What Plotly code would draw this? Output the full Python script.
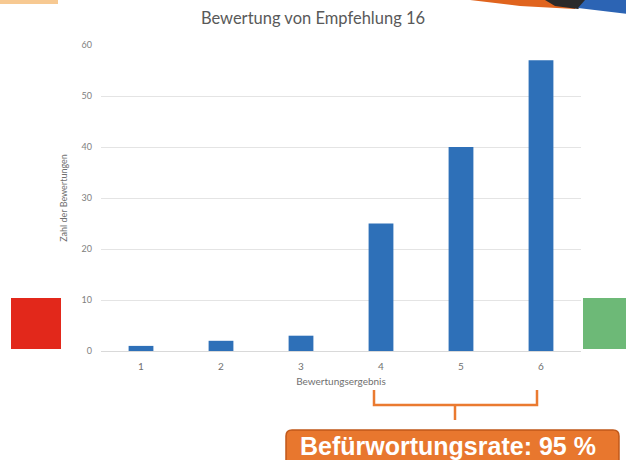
import plotly.graph_objects as go

categories = ["1", "2", "3", "4", "5", "6"]
counts = [1, 2, 3, 25, 40, 57]
y_ticks = [0, 10, 20, 30, 40, 50, 60]

title_text = "Bewertung von Empfehlung 16"
x_title = "Bewertungsergebnis"
y_title = "Zahl der Bewertungen"
badge_text = "Befürwortungsrate: 95 %"

W, H = 626, 460
L, R, T, B = 101, 581, 45, 351


def px(x):
    return (x - L) / (R - L)


def py(y):
    return (B - y) / (B - T)


fig = go.Figure(
    go.Bar(
        x=categories,
        y=counts,
        marker=dict(color="#2E70B8", line=dict(width=0)),
        hoverinfo="x+y",
    )
)

shapes = []
# side squares
shapes.append(dict(type="rect", xref="paper", yref="paper",
                   x0=px(11), x1=px(61), y0=py(349), y1=py(298),
                   fillcolor="#E2281B", line=dict(width=0), layer="above"))
shapes.append(dict(type="rect", xref="paper", yref="paper",
                   x0=px(583), x1=px(628), y0=py(349), y1=py(298),
                   fillcolor="#6DB977", line=dict(width=0), layer="above"))
# bracket
bc = "#EA7A30"
shapes.append(dict(type="path", xref="paper", yref="paper",
                   path=f"M {px(374)},{py(390)} L {px(374)},{py(405)} L {px(537)},{py(405)} L {px(537)},{py(390)}",
                   line=dict(color=bc, width=2.5), layer="above"))
shapes.append(dict(type="line", xref="paper", yref="paper",
                   x0=px(455), x1=px(455), y0=py(405), y1=py(420),
                   line=dict(color=bc, width=2.5), layer="above"))
# badge (rounded rect)
bx0, bx1, by0, by1, r = 286, 619, 430, 462, 6
path = (f"M {px(bx0 + r)},{py(by0)} L {px(bx1 - r)},{py(by0)} "
        f"Q {px(bx1)},{py(by0)} {px(bx1)},{py(by0 + r)} "
        f"L {px(bx1)},{py(by1)} L {px(bx0)},{py(by1)} "
        f"L {px(bx0)},{py(by0 + r)} Q {px(bx0)},{py(by0)} {px(bx0 + r)},{py(by0)} Z")
shapes.append(dict(type="path", xref="paper", yref="paper", path=path,
                   fillcolor="#E8772E", line=dict(color="#C0581A", width=1.5), layer="above"))
# top-right swoosh
shapes.append(dict(type="path", xref="paper", yref="paper",
                   path=f"M {px(470)},{py(0)} L {px(580)},{py(0)} L {px(575)},{py(9)} L {px(520)},{py(6)} Z",
                   fillcolor="#E0641E", line=dict(width=0), layer="above"))
shapes.append(dict(type="path", xref="paper", yref="paper",
                   path=f"M {px(545)},{py(0)} L {px(590)},{py(0)} L {px(578)},{py(9)} L {px(555)},{py(6)} Z",
                   fillcolor="#2A2A2A", line=dict(width=0), layer="above"))
shapes.append(dict(type="path", xref="paper", yref="paper",
                   path=f"M {px(585)},{py(0)} L {px(628)},{py(0)} L {px(628)},{py(14)} L {px(578)},{py(8)} Z",
                   fillcolor="#2C64B4", line=dict(width=0), layer="above"))
# top-left cut-off orange heading fragment
shapes.append(dict(type="rect", xref="paper", yref="paper",
                   x0=px(0), x1=px(58), y0=py(4), y1=py(0),
                   fillcolor="#F2A54A", opacity=0.6, line=dict(width=0), layer="above"))

annotations = [
    dict(text=badge_text, xref="paper", yref="paper", x=px(448), y=py(446),
         xanchor="center", yanchor="middle", showarrow=False,
         font=dict(family="Liberation Sans, Arial", size=25, color="white", weight="bold")),
]

fig.update_layout(
    width=W, height=H,
    margin=dict(l=L, r=W - R, t=T, b=H - B),
    paper_bgcolor="white", plot_bgcolor="white",
    bargap=0.69,
    showlegend=False,
    title=dict(text=title_text, x=0.5, xref="container", xanchor="center",
               y=1 - 18 / H, yanchor="middle",
               font=dict(family="Lato, Open Sans", size=16.5, color="#595959")),
    xaxis=dict(
        type="category",
        title=dict(text=x_title, font=dict(family="Lato, Open Sans", size=10, color="#707070"), standoff=6),
        tickfont=dict(family="Lato, Open Sans", size=10, color="#707070"),
        showgrid=False, showline=True, linecolor="#D9D9D9", linewidth=1,
        ticks="", zeroline=False, fixedrange=True, ticklabelstandoff=6,
    ),
    yaxis=dict(
        range=[0, 60],
        tickvals=y_ticks,
        title=dict(text=y_title, font=dict(family="Lato, Open Sans", size=9, color="#707070"), standoff=12),
        tickfont=dict(family="Lato, Open Sans", size=9, color="#808080"),
        showgrid=True, gridcolor="#E4E4E4", gridwidth=1,
        zeroline=False, showline=False, ticks="", ticklabelstandoff=8, fixedrange=True,
    ),
    shapes=shapes,
    annotations=annotations,
)

fig.write_html("out.html", config={"displayModeBar": False},
               post_script="document.body.style.margin='0';document.body.style.overflow='hidden';")
